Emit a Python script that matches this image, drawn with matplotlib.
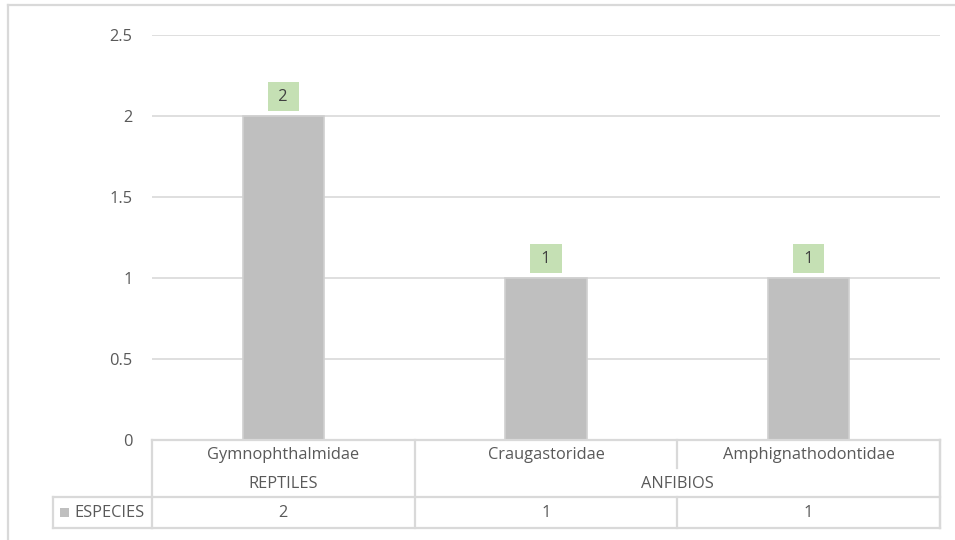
import matplotlib
matplotlib.use("Agg")
import matplotlib.pyplot as plt
from matplotlib.lines import Line2D
from matplotlib.patches import Rectangle
from matplotlib.transforms import blended_transform_factory

families = ["Gymnophthalmidae", "Craugastoridae", "Amphignathodontidae"]
groups = ["REPTILES", "ANFIBIOS"]
group_spans = [(0, 0), (1, 2)]
especies = [2, 1, 1]
series_name = "ESPECIES"

TEXT = "#595959"
GRID = "#d9d9d9"
BAR = "#bfbfbf"
LABEL_BG = "#c5e0b4"
FS = 11.8

plt.rcParams["font.family"] = ["Open Sans", "DejaVu Sans"]

W, H = 955, 540
fig = plt.figure(figsize=(W / 100, H / 100), dpi=100)

def fx(px):
    return px / W

def fy(py):
    return 1 - py / H

# plot area
ax = fig.add_axes([fx(152), fy(440), fx(940) - fx(152), fy(35) - fy(440)])
x = list(range(len(families)))
ax.bar(x, especies, width=0.31, color=BAR, edgecolor="#d0d0d0", linewidth=1.2, zorder=3)
ax.set_xlim(-0.5, len(families) - 0.5)
ax.set_ylim(0, 2.5)
ax.set_yticks([0, 0.5, 1, 1.5, 2, 2.5])
ax.set_yticklabels(["0", "0.5", "1", "1.5", "2", "2.5"])
ax.tick_params(axis="y", length=0, pad=14, labelsize=FS, labelcolor=TEXT)
ax.set_xticks([])
ax.grid(axis="y", color=GRID, linewidth=1.2, zorder=0)
for s in ax.spines.values():
    s.set_visible(False)

for xi, v in zip(x, especies):
    ax.annotate(" " + str(v) + " ", (xi, v), xytext=(0, 14), textcoords="offset points",
                ha="center", va="center", fontsize=FS, color="#404040",
                bbox=dict(boxstyle="square,pad=0.42", fc=LABEL_BG, ec="none"),
                zorder=4)

# data table under the axis
tr = blended_transform_factory(ax.transData, fig.transFigure)
y_top, y_mid, y_data, y_bot = fy(440), fy(468), fy(497), fy(528)

def hline(x0, x1, y, t=tr):
    fig.add_artist(Line2D([x0, x1], [y, y], transform=t, color=GRID, lw=1.6))

def vline(xv, y0, y1, t=tr):
    fig.add_artist(Line2D([xv, xv], [y0, y1], transform=t, color=GRID, lw=1.6))

left, right = -0.5, len(families) - 0.5
hline(left, right, y_top)
hline(left, right, y_data)
hline(left, right, y_bot)
hline(fx(53), fx(152), y_data, fig.transFigure)
hline(fx(53), fx(152), y_bot, fig.transFigure)
vline(fx(53), y_data, y_bot, fig.transFigure)
vline(left, y_top, y_bot)
vline(right, y_top, y_bot)
for g0, g1 in group_spans:
    vline(g1 + 0.5, y_top, y_bot)
    for k in range(g0, g1):
        vline(k + 0.5, y_top, y_mid)
        vline(k + 0.5, y_data, y_bot)

row1, row2, row3 = fy(455), fy(484), fy(513)
for xi, name, v in zip(x, families, especies):
    fig.text(xi, row1, name, transform=tr, ha="center", va="center",
             fontsize=FS, color=TEXT)
    fig.text(xi, row3, str(v), transform=tr, ha="center",
             va="center", fontsize=FS, color=TEXT)
for (g0, g1), name in zip(group_spans, groups):
    fig.text((g0 + g1) / 2, row2, name, transform=tr, ha="center",
             va="center", fontsize=FS, color=TEXT)

fig.add_artist(Rectangle((fx(60), fy(517)), fx(9), fy(508) - fy(517),
                         transform=fig.transFigure, fc=BAR, ec="none"))
fig.text(fx(74), row3, series_name, ha="left", va="center",
         fontsize=FS, color=TEXT)

# chart frame
fig.add_artist(Line2D([fx(8), fx(955)], [fy(5), fy(5)], transform=fig.transFigure,
                      color=GRID, lw=1.6))
fig.add_artist(Line2D([fx(8), fx(8)], [fy(5), fy(540)], transform=fig.transFigure,
                      color=GRID, lw=1.6))

fig.savefig("out.png", dpi=100)
